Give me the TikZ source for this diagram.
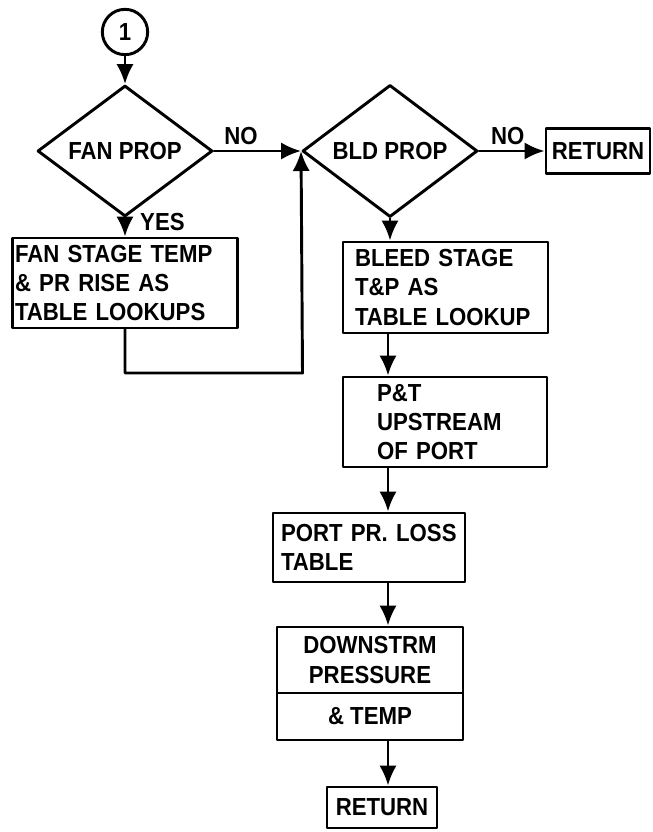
\documentclass[tikz,border=0pt]{standalone}
\usepackage{fontspec}
\setmainfont{Liberation Sans}[FakeStretch=0.9]
\usetikzlibrary{shapes.geometric,arrows.meta}
\tikzset{
  decide/.style={diamond,draw,minimum width=131.25pt,minimum height=70.5pt,inner sep=0pt},
  stepbox/.style={rectangle,draw,inner ysep=0pt},
  leftbox/.style={stepbox,align=left},
  midbox/.style={stepbox,align=center,inner xsep=0pt}
}
\begin{document}
\begin{tikzpicture}[x=0.75pt,y=-0.75pt,line width=2.2pt,line cap=round,line join=round,
  >={Latex[length=15pt,width=13pt]},
  every node/.style={font=\bfseries\fontsize{18.5}{22}\selectfont}]
  \useasboundingbox (0,0) rectangle (653,832);
  \node[circle,draw,minimum size=34pt,inner sep=0pt] (con1) at (125,32) {1};
  \node[decide] (fanprop) at (125,151) {FAN PROP};
  \node[decide] (bldprop) at (390,151) {BLD PROP};
  \node[midbox,minimum width=78pt,minimum height=34pt] (ret1) at (598,151) {RETURN};
  \node[leftbox,text width=165pt,inner xsep=2pt,minimum height=67.5pt] (fanbox) at (125,283)
    {FAN STAGE TEMP\\\& PR RISE AS\\TABLE LOOKUPS};
  \node[leftbox,text width=135.75pt,inner xsep=9pt,minimum height=68.25pt] (bleedbox) at (445.5,287.5)
    {BLEED STAGE\\T\&P AS\\TABLE LOOKUP};
  \node[leftbox,text width=102pt,inner xsep=25.5pt,minimum height=67.5pt] (ptbox) at (445,422)
    {P\&T\\UPSTREAM\\OF PORT};
  \node[leftbox,text width=132pt,inner xsep=6pt,minimum height=51.75pt] (portbox) at (369,547.5)
    {PORT PR. LOSS\\TABLE};
  \node[midbox,minimum width=139.5pt,minimum height=49.5pt] (downa) at (370,660)
    {DOWNSTRM\\PRESSURE};
  \node[midbox,minimum width=139.5pt,minimum height=35.25pt] (downb) at (370,716.5) {\& TEMP};
  \node[midbox,minimum width=82.5pt,minimum height=30.75pt] (ret2) at (382,807.5) {RETURN};
  \coordinate (loopc) at (302.5,373);
  \coordinate (spine) at (388,0);
  \draw[->] (con1) -- (fanprop.north);
  \draw[->] (fanprop.east) -- node[above,pos=0.31] (no1) {NO} (bldprop.west);
  \draw[->] (fanprop.south) -- node[right=7pt,pos=0.2] (yes1) {YES} (fanbox.north);
  \draw[->] (fanbox.south) |- (loopc) -- (bldprop.west);
  \draw[->] (bldprop.east) -- node[above,pos=0.44] (no2) {NO} (ret1.west);
  \draw[->] (bldprop.south) -- (bldprop.south |- bleedbox.north);
  \draw[->] (spine |- bleedbox.south) -- (spine |- ptbox.north);
  \draw[->] (spine |- ptbox.south) -- (spine |- portbox.north);
  \draw[->] (spine |- portbox.south) -- (spine |- downa.north);
  \draw[->] (spine |- downb.south) -- (spine |- ret2.north);
\end{tikzpicture}
\end{document}
